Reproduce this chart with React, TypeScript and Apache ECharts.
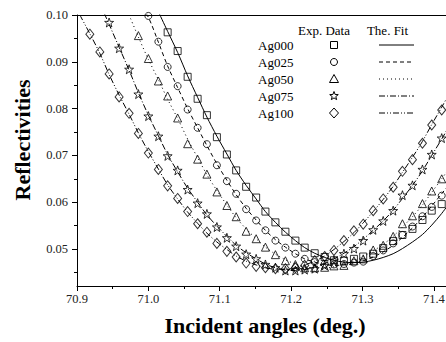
import React, { useEffect, useRef } from "react";
import * as echarts from "echarts";

// Incident angles (deg.) shared by all samples
const angles = [
  70.904, 70.918, 70.932, 70.945, 70.959, 70.973, 70.986,
  71.0, 71.014, 71.027, 71.041, 71.055, 71.069, 71.082, 71.096, 71.11, 71.123,
  71.137, 71.151, 71.164, 71.178, 71.192, 71.206, 71.219, 71.233, 71.247, 71.26,
  71.274, 71.288, 71.301, 71.315, 71.329, 71.343, 71.356, 71.37, 71.384, 71.397,
  71.411, 71.425,
];

const seriesNames = ["Ag000", "Ag025", "Ag050", "Ag075", "Ag100"];

// Experimental data
const exp000 = [
  null, null, null, null, null, null, null, null, null,
  0.0963, 0.0923, 0.0868, 0.0821, 0.0786, 0.0739, 0.0702, 0.0668, 0.0633, 0.061,
  0.058, 0.0557, 0.0537, 0.0518, 0.0503, 0.0491, 0.0483, 0.0476, 0.0475, 0.0479,
  0.0484, 0.049, 0.0502, 0.0517, 0.053, 0.0543, 0.0562, 0.0582, 0.0596, null,
];
const exp025 = [
  null, null, null, null, null, null, null,
  0.0998, 0.0943, 0.0889, 0.0848, 0.0798, 0.0759, 0.0724, 0.0679, 0.0645, 0.0618,
  0.0585, 0.0561, 0.054, 0.0518, 0.0503, 0.049, 0.0479, 0.0472, 0.0468, 0.0467,
  0.0468, 0.0471, 0.0473, 0.0485, 0.0497, 0.0512, 0.053, 0.0548, 0.057, 0.059,
  0.0614, null,
];
const exp050 = [
  null, null, null, null, null, null,
  0.0956, 0.0907, 0.0859, 0.0827, 0.078, 0.0725, 0.0692, 0.066, 0.0622, 0.0593,
  0.0569, 0.0538, 0.0522, 0.0504, 0.0488, 0.0475, 0.0467, 0.046, 0.046, 0.0461,
  0.0464, 0.0465, 0.0475, 0.0479, 0.0498, 0.0508, 0.0527, 0.0554, 0.0571, 0.0597,
  0.0624, 0.065, null,
];
const exp075 = [
  null, null, null,
  0.0984, 0.0929, 0.0884, 0.0831, 0.0784, 0.0741, 0.0699, 0.0668, 0.0627, 0.0598,
  0.0575, 0.0547, 0.0524, 0.0506, 0.0489, 0.0479, 0.0467, 0.046, 0.0454, 0.0454,
  0.0456, 0.0458, 0.0465, 0.0476, 0.049, 0.0501, 0.0518, 0.0541, 0.056, 0.0582,
  0.0615, 0.0636, 0.067, 0.0702, 0.0737, null,
];
const exp100 = [
  null,
  0.0959, 0.0921, 0.0874, 0.0825, 0.079, 0.0747, 0.0705, 0.067, 0.0635, 0.0608,
  0.058, 0.0554, 0.0536, 0.0512, 0.0495, 0.0483, 0.047, 0.0463, 0.046, 0.0458,
  0.0458, 0.046, 0.0465, 0.0475, 0.0484, 0.0497, 0.0518, 0.0539, 0.0553, 0.0582,
  0.0607, 0.0632, 0.0666, 0.0691, 0.0726, 0.0765, 0.0797, null,
];

// Theoretical fits
const fit000 = [
  null, null, null, null, null, null, null, null,
  0.1007, 0.0965, 0.092, 0.087, 0.0824, 0.0782, 0.0741, 0.0703, 0.0668, 0.0636,
  0.0607, 0.058, 0.0557, 0.0536, 0.0518, 0.0503, 0.0491, 0.0482, 0.0476, 0.0472,
  0.0471, 0.0472, 0.0476, 0.0482, 0.049, 0.0501, 0.0515, 0.0531, 0.0551, 0.0576,
  0.0605,
];
const fit025 = [
  null, null, null, null, null, null,
  0.1028, 0.0995, 0.0942, 0.0891, 0.0845, 0.08, 0.0759, 0.0721, 0.0682, 0.0647,
  0.0616, 0.0587, 0.0562, 0.054, 0.052, 0.0504, 0.049, 0.0479, 0.0472, 0.0467,
  0.0465, 0.0466, 0.0469, 0.0475, 0.0483, 0.0494, 0.0508, 0.0525, 0.0545, 0.0568,
  0.0592, 0.0618, 0.0646,
];
const fit050 = [
  null, null, null, null, null,
  0.1, 0.0953, 0.0905, 0.0862, 0.082, 0.0779, 0.0735, 0.0695, 0.0659, 0.0625,
  0.0594, 0.0567, 0.0543, 0.0522, 0.0504, 0.0489, 0.0477, 0.0468, 0.0462, 0.0459,
  0.0459, 0.0462, 0.0467, 0.0474, 0.0484, 0.0496, 0.051, 0.0527, 0.0547, 0.0569,
  0.0594, 0.0621, 0.065, 0.068,
];
const fit075 = [
  null, null,
  0.1025, 0.098, 0.0931, 0.0882, 0.0834, 0.0786, 0.0742, 0.0702, 0.0665, 0.063,
  0.06, 0.0573, 0.0549, 0.0527, 0.0508, 0.0492, 0.0479, 0.0468, 0.046, 0.0455,
  0.0454, 0.0456, 0.0461, 0.0469, 0.0479, 0.0491, 0.0505, 0.0521, 0.054, 0.056,
  0.0583, 0.0608, 0.0636, 0.0667, 0.07, 0.0735, 0.0772,
];
const fit100 = [
  0.1, 0.096, 0.0918, 0.0873, 0.0829, 0.0788, 0.0748, 0.0708, 0.0671, 0.0637,
  0.0607, 0.0579, 0.0555, 0.0534, 0.0515, 0.0499, 0.0485, 0.0474, 0.0466, 0.046,
  0.0457, 0.0457, 0.046, 0.0466, 0.0474, 0.0485, 0.0499, 0.0516, 0.0535, 0.0556,
  0.058, 0.0606, 0.0634, 0.0664, 0.0696, 0.073, 0.0766, 0.0803, 0.0842,
];

const xTicks = [70.9, 71.0, 71.1, 71.2, 71.3, 71.4];
const xMinorTicks = [70.95, 71.05, 71.15, 71.25, 71.35];
const yTicks = [0.05, 0.06, 0.07, 0.08, 0.09, 0.1];
const yMinorTicks = [0.045, 0.055, 0.065, 0.075, 0.085, 0.095];

const STAR =
  "path://M0,-10L2.35,-3.24L9.51,-3.09L3.8,1.24L5.88,8.09L0,4L-5.88,8.09L-3.8,1.24L-9.51,-3.09L-2.35,-3.24Z";

const expSets = [exp000, exp025, exp050, exp075, exp100];
const fitSets = [fit000, fit025, fit050, fit075, fit100];
const symbols = ["rect", "circle", "triangle", STAR, "diamond"];
const symbolSizes: any[] = [7, 7, [8, 8], 9, [8, 10]];
const dashes: any[] = ["solid", [4, 3], [1, 3], [6, 2, 1, 2], [6, 2, 1, 2, 1, 2]];

const SERIF = '"Liberation Serif", "Times New Roman", serif';

function pairs(vals: (number | null)[]) {
  const out: number[][] = [];
  angles.forEach((a, i) => {
    const v = vals[i];
    if (v != null) out.push([a, v]);
  });
  return out;
}

function starPoints(cx: number, cy: number, r: number, ri: number) {
  const pts: number[][] = [];
  for (let i = 0; i < 10; i++) {
    const ang = -Math.PI / 2 + (i * Math.PI) / 5;
    const rr = i % 2 === 0 ? r : ri;
    pts.push([cx + rr * Math.cos(ang), cy + rr * Math.sin(ang)]);
  }
  return pts;
}

export default function App() {
  const ref = useRef<HTMLDivElement>(null);
  useEffect(() => {
    if (!ref.current) return;
    const chart = echarts.init(ref.current, undefined, { renderer: "svg" });

    const series: any[] = [];
    seriesNames.forEach((name, i) => {
      series.push({
        name: name + " fit",
        type: "line",
        data: pairs(fitSets[i]),
        showSymbol: false,
        smooth: 0.3,
        clip: true,
        lineStyle: { color: "#000", width: 1, type: dashes[i] },
        z: 2,
      });
      series.push({
        name,
        type: "scatter",
        data: pairs(expSets[i]),
        symbol: symbols[i],
        symbolSize: symbolSizes[i],
        itemStyle: { color: "rgba(0,0,0,0)", borderColor: "#000", borderWidth: 1 },
        z: 3,
      });
    });

    const legendX = 258;
    const symX = 334;
    const lineX1 = 379;
    const lineX2 = 414;
    const rowsY = [45, 62, 79, 96, 113];
    const legendFont = "13px " + SERIF;
    const graphics: any[] = [
      {
        type: "text",
        x: 22,
        y: 140,
        rotation: Math.PI / 2,
        style: {
          text: "Reflectivities",
          font: "bold 22px " + SERIF,
          fill: "#000",
          align: "center",
          verticalAlign: "middle",
        },
      },
      {
        type: "text",
        x: 265,
        y: 325,
        style: {
          text: "Incident angles (deg.)",
          font: "bold 22px " + SERIF,
          fill: "#000",
          align: "center",
          verticalAlign: "middle",
        },
      },
      {
        type: "text",
        x: 324,
        y: 30,
        style: { text: "Exp. Data", font: legendFont, fill: "#000", align: "center", verticalAlign: "middle" },
      },
      {
        type: "text",
        x: 387.5,
        y: 30,
        style: { text: "The. Fit", font: legendFont, fill: "#000", align: "center", verticalAlign: "middle" },
      },
    ];
    const sym = { fill: "none", stroke: "#000", lineWidth: 1 };
    seriesNames.forEach((name, i) => {
      const y = rowsY[i];
      graphics.push({
        type: "text",
        x: legendX,
        y,
        style: { text: name, font: legendFont, fill: "#000", align: "left", verticalAlign: "middle" },
      });
      if (i === 0) {
        graphics.push({ type: "rect", shape: { x: symX - 3.5, y: y - 3.5, width: 7, height: 7 }, style: sym });
      } else if (i === 1) {
        graphics.push({ type: "circle", shape: { cx: symX, cy: y, r: 3.5 }, style: sym });
      } else if (i === 2) {
        graphics.push({
          type: "polygon",
          shape: { points: [[symX, y - 4.5], [symX + 4.5, y + 3.5], [symX - 4.5, y + 3.5]] },
          style: sym,
        });
      } else if (i === 3) {
        graphics.push({ type: "polygon", shape: { points: starPoints(symX, y, 4.5, 1.9) }, style: sym });
      } else {
        graphics.push({
          type: "polygon",
          shape: { points: [[symX, y - 5], [symX + 4.5, y], [symX, y + 5], [symX - 4.5, y]] },
          style: sym,
        });
      }
      const d = dashes[i];
      graphics.push({
        type: "line",
        shape: { x1: lineX1, y1: y, x2: lineX2, y2: y },
        style: { stroke: "#000", lineWidth: 1, lineDash: d === "solid" ? null : d },
      });
    });

    const labelStyle = { fontFamily: SERIF, fontSize: 12.5, color: "#222" };

    chart.setOption({
      animation: false,
      backgroundColor: "#fff",
      grid: {
        left: 77,
        right: 0,
        top: 15,
        bottom: 56,
        containLabel: false,
        outerBoundsMode: "none",
      },
      xAxis: [
        {
          type: "value",
          min: 70.9,
          max: 71.417,
          position: "bottom",
          axisLine: { show: true, onZero: false, lineStyle: { color: "#000", width: 1 } },
          axisTick: { show: true, inside: false, length: 5, customValues: xTicks, lineStyle: { color: "#000" } },
          axisLabel: {
            show: true,
            customValues: xTicks,
            formatter: (v: number) => v.toFixed(1),
            margin: 6,
            ...labelStyle,
          },
          splitLine: { show: false },
        },
        {
          type: "value",
          min: 70.9,
          max: 71.417,
          position: "bottom",
          axisLine: { show: false },
          axisTick: { show: true, inside: false, length: 3, customValues: xMinorTicks, lineStyle: { color: "#000" } },
          axisLabel: { show: false },
          splitLine: { show: false },
        },
        {
          type: "value",
          min: 70.9,
          max: 71.417,
          position: "top",
          axisLine: { show: true, onZero: false, lineStyle: { color: "#000", width: 1 } },
          axisTick: { show: false },
          axisLabel: { show: false },
          splitLine: { show: false },
        },
      ],
      yAxis: [
        {
          type: "value",
          min: 0.0421,
          max: 0.1,
          position: "left",
          axisLine: { show: true, onZero: false, lineStyle: { color: "#000", width: 1 } },
          axisTick: { show: true, inside: false, length: 5, customValues: yTicks, lineStyle: { color: "#000" } },
          axisLabel: {
            show: true,
            customValues: yTicks,
            formatter: (v: number) => v.toFixed(2),
            margin: 9,
            ...labelStyle,
          },
          splitLine: { show: false },
        },
        {
          type: "value",
          min: 0.0421,
          max: 0.1,
          position: "left",
          axisLine: { show: false },
          axisTick: { show: true, inside: false, length: 3, customValues: yMinorTicks, lineStyle: { color: "#000" } },
          axisLabel: { show: false },
          splitLine: { show: false },
        },
      ],
      series,
      graphic: graphics,
    });

    return () => chart.dispose();
  }, []);

  return (
    <div
      ref={ref}
      style={{ position: "fixed", left: 0, top: 0, width: 446, height: 342, background: "#fff" }}
    />
  );
}
